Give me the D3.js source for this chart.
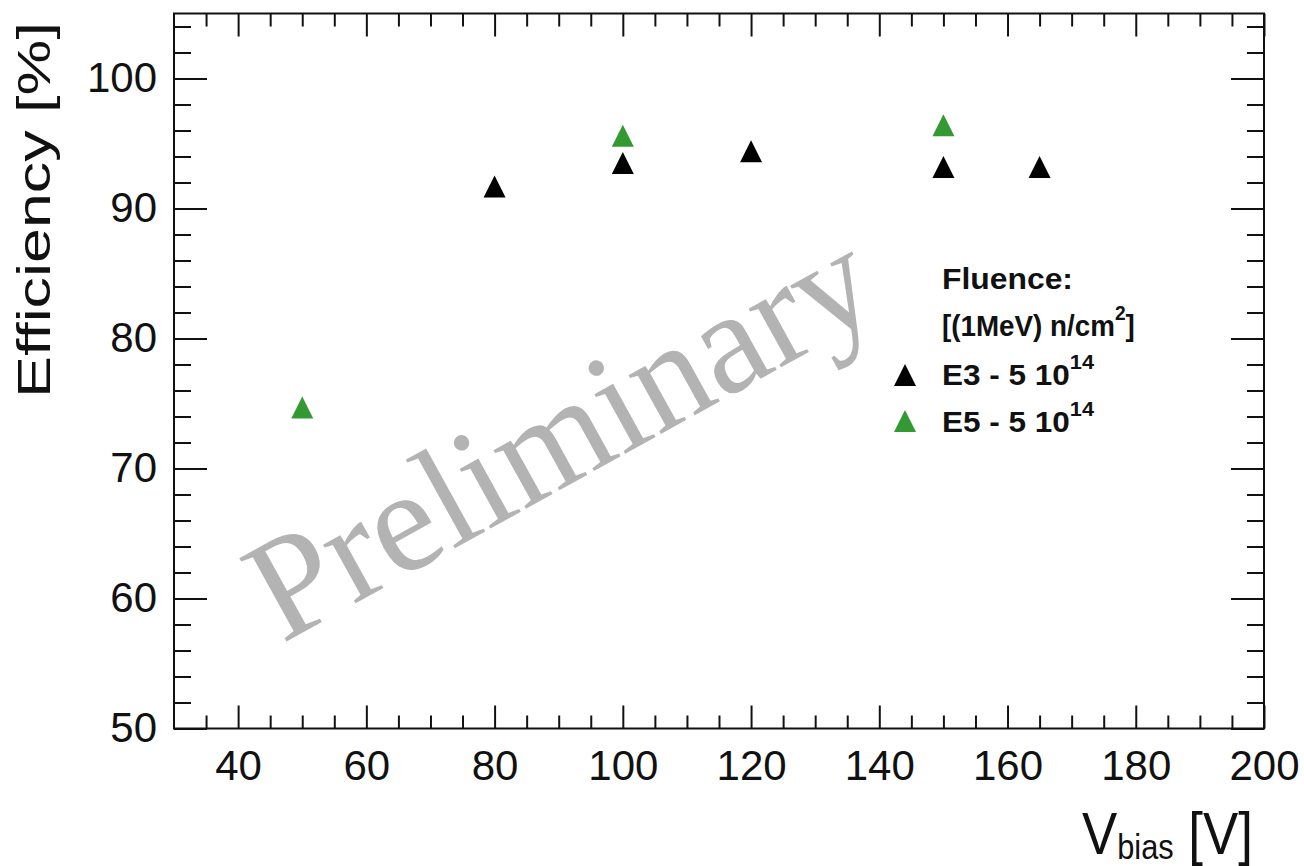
<!DOCTYPE html>
<html>
<head>
<meta charset="utf-8">
<script src="https://cdn.jsdelivr.net/npm/d3@7"></script>
<style>
  body { margin: 0; background: #fff; }
  svg { display: block; }
</style>
</head>
<body>
<svg id="chart" width="1304" height="866"></svg>
<script>
// Efficiency vs bias voltage for two irradiated sensors
const e3Bias = [80, 100, 120, 150, 165];
const e3Eff  = [91.7, 93.5, 94.4, 93.2, 93.2];
const e5Bias = [50, 100, 150];
const e5Eff  = [74.7, 95.6, 96.4];

const xMajorTicks = [40, 60, 80, 100, 120, 140, 160, 180, 200];
const yMajorTicks = [50, 60, 70, 80, 90, 100];

const seriesNames  = ["E3 - 5 10", "E5 - 5 10"];
const seriesExp    = ["14", "14"];
const seriesColors = ["#000000", "#339933"];

const svg = d3.select("#chart");
const frame = { l: 174, r: 1264, t: 13.5, b: 728.5 };

const x = d3.scaleLinear().domain([30, 200]).range([frame.l, frame.r]);
const y = d3.scaleLinear().domain([50, 105]).range([frame.b, frame.t]);

const xMinor = d3.range(35, 200, 5).filter(v => v % 20 !== 0);
const yMinor = d3.range(52, 105, 2).filter(v => v % 10 !== 0);

const axisFont = "'Liberation Sans', Arial, Helvetica, sans-serif";
const ink = "#111";

function styleAxis(g) {
  g.select(".domain").remove();
  g.selectAll(".tick line").attr("stroke", ink).attr("stroke-width", 2);
  g.selectAll(".tick text")
    .attr("fill", ink)
    .style("font-family", axisFont)
    .style("font-size", "42px");
}

// bottom axis with labels, ticks pointing into the frame
svg.append("g").attr("transform", `translate(0,${frame.b})`)
  .call(d3.axisBottom(x).tickValues(xMajorTicks).tickSize(-23).tickPadding(22).tickFormat(d3.format("d")))
  .call(styleAxis);
svg.append("g").attr("transform", `translate(0,${frame.b})`)
  .call(d3.axisBottom(x).tickValues(xMinor).tickSize(-13).tickFormat(""))
  .call(styleAxis);
// top mirror ticks
svg.append("g").attr("transform", `translate(0,${frame.t})`)
  .call(d3.axisTop(x).tickValues(xMajorTicks).tickSize(-23).tickFormat(""))
  .call(styleAxis);
svg.append("g").attr("transform", `translate(0,${frame.t})`)
  .call(d3.axisTop(x).tickValues(xMinor).tickSize(-13).tickFormat(""))
  .call(styleAxis);

// left axis with labels
svg.append("g").attr("transform", `translate(${frame.l},0)`)
  .call(d3.axisLeft(y).tickValues(yMajorTicks).tickSize(-33).tickPadding(17).tickFormat(d3.format("d")))
  .call(styleAxis);
svg.append("g").attr("transform", `translate(${frame.l},0)`)
  .call(d3.axisLeft(y).tickValues(yMinor).tickSize(-17).tickFormat(""))
  .call(styleAxis);
// right mirror ticks
svg.append("g").attr("transform", `translate(${frame.r},0)`)
  .call(d3.axisRight(y).tickValues(yMajorTicks).tickSize(-33).tickFormat(""))
  .call(styleAxis);
svg.append("g").attr("transform", `translate(${frame.r},0)`)
  .call(d3.axisRight(y).tickValues(yMinor).tickSize(-17).tickFormat(""))
  .call(styleAxis);

// frame
svg.append("rect")
  .attr("x", frame.l).attr("y", frame.t)
  .attr("width", frame.r - frame.l).attr("height", frame.b - frame.t)
  .attr("fill", "none").attr("stroke", ink).attr("stroke-width", 2);

// stretch a text element along its baseline to a target width
function fitWidth(sel, x0, y0, target, extra) {
  const w = sel.node().getBBox().width;
  const k = target / w;
  sel.attr("transform", `translate(${x0},${y0}) ${extra || ""} scale(${k},1)`);
}

// axis titles
const yTitle = svg.append("text")
  .attr("x", 0).attr("y", 0)
  .attr("fill", ink)
  .style("font-family", axisFont).style("font-size", "46px")
  .text("Efficiency [%]");
fitWidth(yTitle, 50, 398, 376, "rotate(-90)");

const xTitle = svg.append("text")
  .attr("x", 0).attr("y", 0)
  .attr("fill", ink)
  .style("font-family", axisFont).style("font-size", "60px");
xTitle.append("tspan").text("V");
xTitle.append("tspan").attr("dy", 5).style("font-size", "35px").text("bias");
xTitle.append("tspan").attr("dy", -5).text(" [V]");
fitWidth(xTitle, 1082, 854, 171);

// watermark
svg.append("text")
  .attr("x", 0).attr("y", 0)
  .attr("transform", "translate(282,644) rotate(-29)")
  .attr("fill", "#b3b3b3")
  .style("font-family", "'Liberation Serif', 'Times New Roman', serif")
  .style("font-size", "146px")
  .text("Preliminary");

// triangle marker, apex up, bounding box centred on the point
const triangleUp = {
  draw(ctx, size) {
    const s = Math.sqrt(size) / 2;
    ctx.moveTo(0, -s);
    ctx.lineTo(s, s);
    ctx.lineTo(-s, s);
    ctx.closePath();
  }
};
const marker = d3.symbol().type(triangleUp).size(22 * 22);

const series = [
  { xs: e3Bias, ys: e3Eff, color: seriesColors[0] },
  { xs: e5Bias, ys: e5Eff, color: seriesColors[1] }
];

series.forEach(s => {
  svg.append("g").selectAll("path")
    .data(s.xs.map((v, i) => [v, s.ys[i]]))
    .join("path")
    .attr("transform", d => `translate(${x(d[0])},${y(d[1])})`)
    .attr("d", marker)
    .attr("fill", s.color);
});

// legend
const legFont = "'Liberation Sans', Arial, Helvetica, sans-serif";
function legendText(parts, x0, y0, target) {
  const t = svg.append("text").attr("x", 0).attr("y", 0)
    .attr("fill", ink)
    .style("font-family", legFont).style("font-size", "29px").style("font-weight", "bold");
  let shift = 0;
  parts.forEach(p => {
    const ts = t.append("tspan").text(p.t);
    if (p.sup) {
      ts.attr("dy", -16).style("font-size", "20px");
      shift = 16;
    } else if (shift) {
      ts.attr("dy", shift);
      shift = 0;
    }
  });
  fitWidth(t, x0, y0, target);
}

legendText([{ t: "Fluence:" }], 942, 289, 131);
legendText([{ t: "[(1MeV) n/cm" }, { t: "2", sup: true }, { t: "]" }], 942, 336, 193);

const legendRows = [385, 432];
const legendMarkerY = [375, 421];
seriesNames.forEach((name, i) => {
  svg.append("path")
    .attr("transform", `translate(905,${legendMarkerY[i]})`)
    .attr("d", marker)
    .attr("fill", seriesColors[i]);
  legendText([{ t: name }, { t: seriesExp[i], sup: true }], 942, legendRows[i], 153);
});
</script>
</body>
</html>
